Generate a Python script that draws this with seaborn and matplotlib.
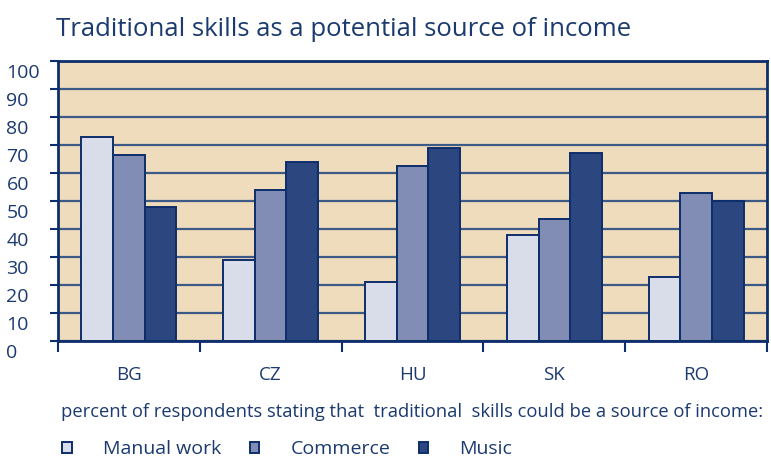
import pandas as pd
import seaborn as sns
import matplotlib.pyplot as plt
from matplotlib.transforms import ScaledTranslation

countries = ['BG', 'CZ', 'HU', 'SK', 'RO']
manual_work = [73, 29, 21, 38, 23]
commerce = [66.5, 54, 62.5, 43.5, 53]
music = [48, 64, 69, 67, 50]
series_names = ['Manual work', 'Commerce', 'Music']
y_ticks = list(range(0, 101, 10))

TEXT = '#1b3a6f'
EDGE = '#0d2d6b'
BG = '#eedcbd'
palette = ['#d9dde9', '#818db5', '#2c4680']

df = pd.DataFrame({'country': countries, 'Manual work': manual_work,
                   'Commerce': commerce, 'Music': music})
long_df = df.melt(id_vars='country', var_name='series', value_name='percent')

sns.set_theme(style='white')
plt.rcParams['font.family'] = ['Open Sans', 'DejaVu Sans']

fig = plt.figure(figsize=(7.71, 4.68), dpi=100)
ax = fig.add_axes([0.075, 0.271, 0.920, 0.599])
ax.set_facecolor(BG)

sns.barplot(data=long_df, x='country', y='percent', hue='series',
            hue_order=series_names, palette=palette, width=0.67,
            edgecolor=EDGE, linewidth=1.4, saturation=1, ax=ax, zorder=3)

ax.set_ylim(0, 100)
ax.set_xlim(-0.5, 4.5)
ax.set_yticks(y_ticks)
ax.set_yticklabels([str(t) for t in y_ticks])
ax.yaxis.grid(True, color='#3d5a86', linewidth=1.6, zorder=1)
ax.set_axisbelow(True)
ax.set_xlabel('')
ax.set_ylabel('')

for side in ['left', 'right', 'top', 'bottom']:
    ax.spines[side].set_color(EDGE)
    ax.spines[side].set_linewidth(2)

# y labels sit left-aligned at the figure edge, a bit below their gridline
ax.tick_params(axis='y', colors=EDGE, labelcolor=TEXT, labelsize=14,
               length=6, width=1.5, pad=31, direction='out', left=True)
offset = ScaledTranslation(0, -0.1, fig.dpi_scale_trans)
for lab in ax.get_yticklabels():
    lab.set_horizontalalignment('left')
    lab.set_transform(lab.get_transform() + offset)

# tick marks between the country groups
ax.set_xticks([i - 0.5 for i in range(len(countries) + 1)], minor=True)
ax.tick_params(axis='x', which='minor', colors=EDGE, length=8, width=1.5,
               direction='out', bottom=True)
ax.tick_params(axis='x', which='major', length=0, labelcolor=TEXT,
               labelsize=13.5, pad=18)

ax.get_legend().remove()
handles = [plt.Rectangle((0, 0), 1, 1, facecolor=c, edgecolor=EDGE, linewidth=1.4)
           for c in palette]
fig.legend(handles, series_names, loc='center left', ncol=3,
           bbox_to_anchor=(0.081, 0.04), frameon=False,
           handlelength=0.5, handleheight=0.55, handletextpad=1.6,
           columnspacing=1.45, fontsize=14, labelcolor=TEXT,
           borderpad=0, borderaxespad=0)
fig.text(0.079, 0.12, 'percent of respondents stating that  traditional  skills could be a source of income:',
         color=TEXT, fontsize=13.2, va='center', ha='left')

fig.text(0.073, 0.938, 'Traditional skills as a potential source of income',
         color=TEXT, fontsize=18.5, va='center', ha='left')

fig.savefig('out.png', dpi=100)
